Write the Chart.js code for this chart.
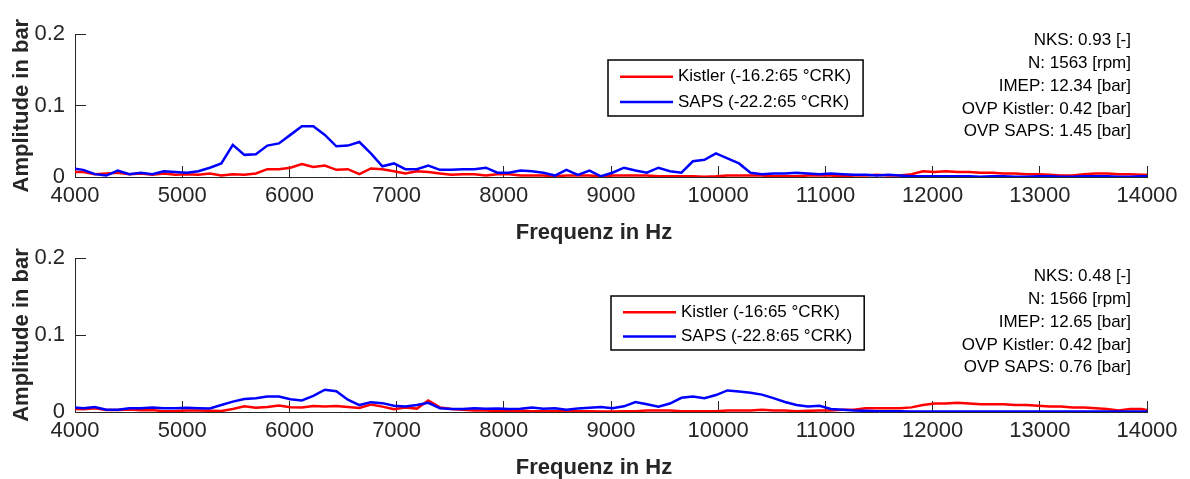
<!DOCTYPE html>
<html>
<head>
<meta charset="utf-8">
<script src="https://cdn.jsdelivr.net/npm/chart.js@4.4.0/dist/chart.umd.min.js"></script>
<style>
  html, body { margin: 0; padding: 0; background: #fff; }
  canvas { position: absolute; left: 0; top: 0; }
</style>
</head>
<body>
<canvas id="top" width="1190" height="479"></canvas>
<canvas id="bottom" width="1190" height="479"></canvas>
<script>
// frequency bins (Hz), shared by both panels
var freq = [3970, 4077, 4185, 4292, 4399, 4507, 4614, 4721, 4829, 4936,
  5043, 5150, 5258, 5365, 5472, 5580, 5687, 5794, 5902, 6009,
  6116, 6223, 6331, 6438, 6545, 6653, 6760, 6867, 6975, 7082,
  7189, 7296, 7404, 7511, 7618, 7726, 7833, 7940, 8048, 8155,
  8262, 8369, 8477, 8584, 8691, 8799, 8906, 9013, 9121, 9228,
  9335, 9442, 9550, 9657, 9764, 9872, 9979, 10086, 10194, 10301,
  10408, 10515, 10623, 10730, 10837, 10945, 11052, 11159, 11267, 11374,
  11481, 11588, 11696, 11803, 11910, 12018, 12125, 12232, 12340, 12447,
  12554, 12661, 12769, 12876, 12983, 13091, 13198, 13305, 13413, 13520,
  13627, 13734, 13842, 13949, 14056];

// upper panel
var kistlerTop = [0.007, 0.007, 0.004, 0.005, 0.006, 0.004, 0.005, 0.003, 0.005, 0.003,
  0.004, 0.003, 0.005, 0.002, 0.004, 0.003, 0.005, 0.011, 0.011, 0.013,
  0.018, 0.014, 0.016, 0.010, 0.011, 0.004, 0.012, 0.011, 0.008, 0.005,
  0.008, 0.007, 0.005, 0.003, 0.004, 0.004, 0.002, 0.004, 0.004, 0.002,
  0.002, 0.002, 0.001, 0.002, 0.002, 0.002, 0.001, 0.002, 0.002, 0.002,
  0.002, 0.001, 0.001, 0.001, 0.001, 0.0005, 0.001, 0.002, 0.002, 0.002,
  0.002, 0.001, 0.001, 0.001, 0.002, 0.002, 0.002, 0.001, 0.002, 0.002,
  0.003, 0.002, 0.002, 0.004, 0.008, 0.007, 0.008, 0.007, 0.007, 0.006,
  0.006, 0.005, 0.005, 0.004, 0.004, 0.003, 0.002, 0.002, 0.004, 0.005,
  0.005, 0.004, 0.004, 0.003, 0.003];
var sapsTop = [0.012, 0.010, 0.004, 0.002, 0.009, 0.004, 0.006, 0.004, 0.008, 0.007,
  0.006, 0.008, 0.013, 0.019, 0.045, 0.031, 0.032, 0.044, 0.047, 0.059,
  0.071, 0.071, 0.059, 0.043, 0.044, 0.049, 0.033, 0.015, 0.019, 0.011,
  0.011, 0.016, 0.010, 0.010, 0.011, 0.011, 0.013, 0.006, 0.006, 0.009,
  0.008, 0.006, 0.002, 0.010, 0.003, 0.009, 0.001, 0.006, 0.013, 0.009,
  0.006, 0.013, 0.008, 0.006, 0.022, 0.024, 0.033, 0.026, 0.019, 0.006,
  0.004, 0.005, 0.005, 0.006, 0.005, 0.004, 0.005, 0.004, 0.003, 0.003,
  0.002, 0.003, 0.002, 0.001, 0.001, 0.001, 0.001, 0.001, 0.001, 0.0005,
  0.001, 0.001, 0.0005, 0.0005, 0.001, 0.001, 0.0005, 0.0005, 0.001, 0.001,
  0.001, 0.0005, 0.0005, 0.001, 0.001];

// lower panel
var kistlerBottom = [0.004, 0.0035, 0.005, 0.0026, 0.0026, 0.0033, 0.0024, 0.0026, 0.001, 0.0013,
  0.002, 0.0018, 0.0016, 0.0013, 0.0039, 0.0074, 0.0054, 0.0066, 0.0083, 0.0063,
  0.0057, 0.0079, 0.0072, 0.0079, 0.0066, 0.0052, 0.0096, 0.007, 0.0035, 0.0057,
  0.0044, 0.015, 0.006, 0.004, 0.003, 0.002, 0.002, 0.001, 0.001, 0.002,
  0.001, 0.001, 0.001, 0.002, 0.001, 0.001, 0.0005, 0.0005, 0.001, 0.001,
  0.002, 0.002, 0.002, 0.001, 0.001, 0.001, 0.001, 0.002, 0.002, 0.002,
  0.003, 0.002, 0.002, 0.001, 0.0015, 0.002, 0.002, 0.003, 0.003, 0.005,
  0.005, 0.005, 0.005, 0.006, 0.009, 0.011, 0.011, 0.012, 0.011, 0.010,
  0.010, 0.010, 0.009, 0.009, 0.008, 0.007, 0.007, 0.006, 0.006, 0.005,
  0.004, 0.002, 0.004, 0.004, 0.001];
var sapsBottom = [0.006, 0.005, 0.0066, 0.003, 0.003, 0.005, 0.005, 0.006, 0.005, 0.005,
  0.0055, 0.005, 0.0045, 0.009, 0.0135, 0.0168, 0.018, 0.020, 0.020, 0.0165,
  0.015, 0.021, 0.029, 0.027, 0.016, 0.009, 0.0128, 0.0115, 0.008, 0.007,
  0.009, 0.012, 0.005, 0.0038, 0.0038, 0.0048, 0.0042, 0.0044, 0.004, 0.0042,
  0.0057, 0.0042, 0.0048, 0.003, 0.0046, 0.0055, 0.0064, 0.005, 0.0074, 0.013,
  0.010, 0.007, 0.011, 0.0184, 0.020, 0.018, 0.022, 0.028, 0.0265, 0.025,
  0.0226, 0.018, 0.013, 0.009, 0.007, 0.008, 0.004, 0.003, 0.002, 0.0015,
  0.001, 0.001, 0.001, 0.0008, 0.0008, 0.0008, 0.0005, 0.0005, 0.0005, 0.0005,
  0.0005, 0.0005, 0.0005, 0.0005, 0.0005, 0.0005, 0.0005, 0.0005, 0.0005, 0.0005,
  0.0005, 0.0005, 0.0005, 0.0005, 0.0005];

var namesTop = ["Kistler (-16.2:65 \u00b0CRK)", "SAPS (-22.2:65 \u00b0CRK)"];
var namesBottom = ["Kistler (-16:65 \u00b0CRK)", "SAPS (-22.8:65 \u00b0CRK)"];
var infoTop = ["NKS: 0.93 [-]", "N: 1563 [rpm]", "IMEP: 12.34 [bar]", "OVP Kistler: 0.42 [bar]", "OVP SAPS: 1.45 [bar]"];
var infoBottom = ["NKS: 0.48 [-]", "N: 1566 [rpm]", "IMEP: 12.65 [bar]", "OVP Kistler: 0.42 [bar]", "OVP SAPS: 0.76 [bar]"];

var FONT = "'Liberation Sans', Arial, Helvetica, sans-serif";
var AXIS = "#262626";

// legend box, info text and x-axis label drawn inside each panel
var panelDecor = {
  id: "panelDecor",
  afterDraw: function (chart, args, o) {
    var ctx = chart.ctx;
    var area = chart.chartArea;
    ctx.save();

    ctx.font = "bold 22px " + FONT;
    ctx.fillStyle = AXIS;
    ctx.textAlign = "center";
    ctx.textBaseline = "alphabetic";
    ctx.fillText("Frequenz in Hz", o.xTitleX, area.bottom + 62);

    // legend
    ctx.font = "17px " + FONT;
    var ds = chart.data.datasets;
    var tw = 0;
    ds.forEach(function (d) { tw = Math.max(tw, ctx.measureText(d.label).width); });
    var lg = o.legend;
    var w = 70 + tw + 12;
    ctx.fillStyle = "#fff";
    ctx.fillRect(lg.x, lg.y, w, lg.h);
    ctx.strokeStyle = "#000";
    ctx.lineWidth = 1.5;
    ctx.strokeRect(lg.x, lg.y, w, lg.h);
    ctx.textAlign = "left";
    ctx.textBaseline = "middle";
    ds.forEach(function (d, i) {
      var ry = lg.y + lg.h * (i === 0 ? 0.3 : 0.75);
      ctx.strokeStyle = d.borderColor;
      ctx.lineWidth = d.borderWidth;
      ctx.beginPath();
      ctx.moveTo(lg.x + 12, ry);
      ctx.lineTo(lg.x + 65, ry);
      ctx.stroke();
      ctx.fillStyle = "#000";
      ctx.fillText(d.label, lg.x + 70, ry);
    });

    // measurement info
    ctx.textAlign = "right";
    o.info.forEach(function (t, i) {
      ctx.fillText(t, o.infoX, o.infoY + i * 22.8);
    });
    ctx.restore();
  }
};

function makePanel(id, kistler, saps, names, info, geo) {
  var pts = function (vals) {
    return freq.map(function (f, i) { return { x: f, y: vals[i] }; });
  };
  return new Chart(document.getElementById(id), {
    type: "line",
    data: {
      datasets: [
        { label: names[0], data: pts(kistler), borderColor: "#ff0000", borderWidth: 2.5, pointRadius: 0, order: 1 },
        { label: names[1], data: pts(saps), borderColor: "#0000ff", borderWidth: 2.5, pointRadius: 0, order: 0 }
      ]
    },
    options: {
      responsive: false,
      animation: false,
      devicePixelRatio: 1,
      layout: { padding: { top: geo.padTop, bottom: geo.padBottom, left: 0, right: 43 } },
      plugins: {
        legend: { display: false },
        tooltip: { enabled: false },
        panelDecor: { legend: geo.legend, info: info, infoX: 1131, infoY: geo.infoY, xTitleX: 594 }
      },
      scales: {
        x: {
          type: "linear",
          min: 4000,
          max: 14000,
          afterFit: function (s) { s.height = geo.axisH; },
          ticks: {
            stepSize: 1000,
            autoSkip: false,
            maxRotation: 0,
            padding: 11,
            color: AXIS,
            font: { family: FONT, size: 22, lineHeight: 1.75 },
            callback: function (v) { return String(v); }
          },
          grid: { drawOnChartArea: false, tickLength: -11, color: AXIS },
          border: { color: AXIS, width: 1 }
        },
        y: {
          min: 0,
          max: 0.2,
          afterFit: function (s) { s.width = 75; },
          ticks: { stepSize: 0.1, padding: 21, color: AXIS, font: { family: FONT, size: 22 } },
          grid: { drawOnChartArea: false, tickLength: -11, color: AXIS },
          border: { color: AXIS, width: 1 },
          title: {
            display: true,
            text: "Amplitude in bar",
            color: AXIS,
            font: { family: FONT, size: 22, weight: "bold" },
            padding: { top: 9, bottom: 0 }
          }
        }
      }
    },
    plugins: [panelDecor]
  });
}

makePanel("top", kistlerTop, sapsTop, namesTop, infoTop,
  { padTop: 23, padBottom: 239, axisH: 63, legend: { x: 608, y: 60, h: 56 }, infoY: 40.5 });
makePanel("bottom", kistlerBottom, sapsBottom, namesBottom, infoBottom,
  { padTop: 258, padBottom: 0, axisH: 67, legend: { x: 611, y: 296, h: 54 }, infoY: 276.5 });
</script>
</body>
</html>
